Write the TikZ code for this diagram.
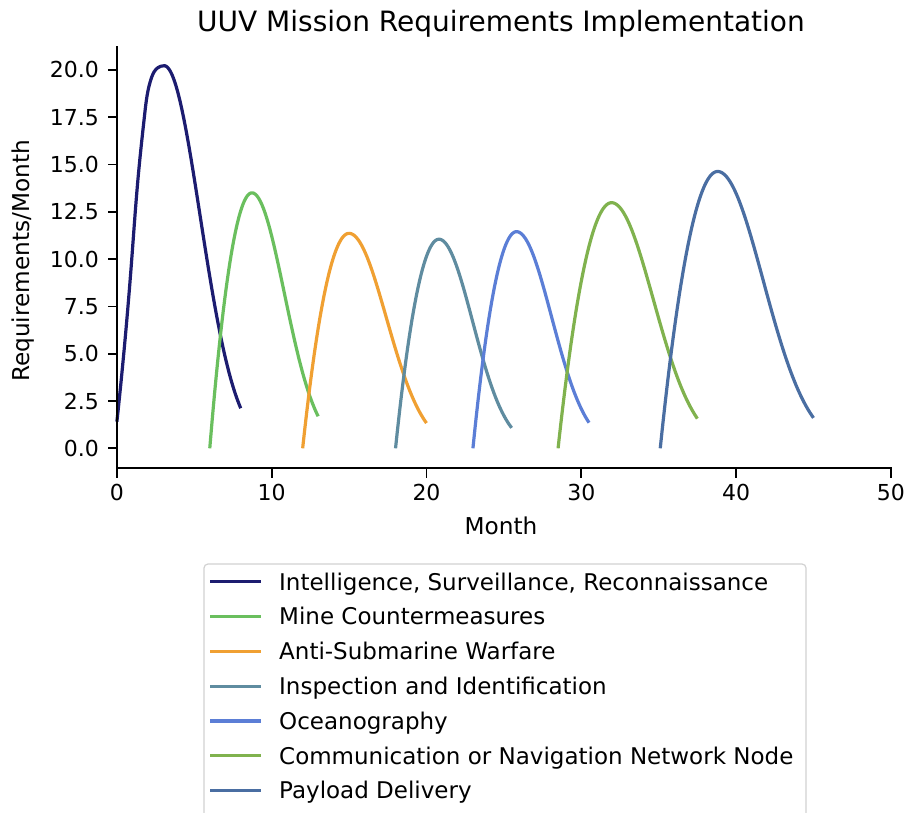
\documentclass[tikz,border=0pt]{standalone}
\usepackage{fontspec}
\setmainfont{DejaVu Sans}
\usetikzlibrary{hobby}
\definecolor{cISR}{HTML}{1C1C70}
\definecolor{cMCM}{HTML}{6ABF5E}
\definecolor{cASW}{HTML}{F0A032}
\definecolor{cII}{HTML}{5F8CA0}
\definecolor{cOCE}{HTML}{5B7ED6}
\definecolor{cCNN}{HTML}{80B24E}
\definecolor{cPAY}{HTML}{4A6EA2}
\definecolor{legendedge}{HTML}{D2D2D2}
% rise (parabola from start #2 to peak #3, height #4) then Gaussian fall of width #5, up to end #7
\newcommand\missioncurve[7]{%
  \draw[curve, #1] plot[domain=#2:#7, samples=160, variable=\x]
    ({\x}, {(\x<#3) ? (#4*(1-(#3-\x)*(#3-\x)/((#3-#2)*(#3-#2)))) : (#4*exp(-(\x-#3)*(\x-#3)/(2*#5*#5)))});}
\begin{document}
\begin{tikzpicture}[x=1pt,y=-1pt,
  curve/.style={line width=3.2pt, line join=round},
  spine/.style={line width=1.8pt, line cap=rect},
  tickmark/.style={line width=1.8pt},
  ticklabel/.style={inner sep=0pt, font=\fontsize{22}{26}\selectfont},
  axlabel/.style={inner sep=0pt, font=\fontsize{23.2}{27}\selectfont},
  legtext/.style={inner sep=0pt, anchor=base west, font=\fontsize{23}{27}\selectfont},
  leghandle/.style={line width=3.2pt}]
\useasboundingbox (0,0) rectangle (905,812);
\fill[white] (0,0) rectangle (905,812);

\begin{scope}[shift={(116.9pt,-448.3pt)}, x=15.48pt, y=18.92pt]
  % curves
  \draw[curve, cISR, use Hobby shortcut] (0,1.41) .. (0.5,5.5) .. (0.95,9.9) .. (1.38,14.4) .. (1.8,17.7) .. (2.24,19.6) .. (2.65,20.12) .. ([in angle=180]3.05,20.22);
  \draw[curve, cISR] plot[domain=3.05:8, samples=80, variable=\x] ({\x}, {20.22*exp(-(\x-3.05)*(\x-3.05)/(2*2.33*2.33))});
  \missioncurve{cMCM}{6}{8.72}{13.5}{2.1}{}{13}
  \missioncurve{cASW}{12}{14.99}{11.36}{2.42}{}{20}
  \missioncurve{cII}{18}{20.8}{11.05}{2.18}{}{25.5}
  \missioncurve{cOCE}{23}{25.81}{11.45}{2.27}{}{30.5}
  \missioncurve{cCNN}{28.5}{31.95}{12.98}{2.7}{}{37.5}
  \missioncurve{cPAY}{35.1}{38.8}{14.63}{2.95}{}{45}
  % axes
  \coordinate (O) at (0,-1.06);
  \coordinate (XE) at (50,-1.06);
  \coordinate (YT) at (0,21.2);
  \draw[spine] (YT) -- (O) -- (XE);
  \foreach \v/\t [count=\i] in {0/0.0, 2.5/2.5, 5/5.0, 7.5/7.5, 10/10.0, 12.5/12.5, 15/15.0, 17.5/17.5, 20/20.0} {
    \draw[tickmark] (0,\v) -- ++(-9.4pt,0) coordinate (ytk\i);
    \node[ticklabel, anchor=east] (yt\i) at ([xshift=-8.5pt]ytk\i) {\t};
  }
  \foreach \m [count=\i] in {0,10,20,30,40,50} {
    \draw[tickmark] (\m,-1.06) -- ++(0,-9.4pt) coordinate (xtk\i);
    \node[ticklabel, anchor=north] (xt\i) at ([yshift=-6.5pt]xtk\i) {\m};
  }
\end{scope}

\node[font=\fontsize{28}{33}\selectfont, anchor=base, inner sep=0pt] (title) at (501,31) {UUV Mission Requirements Implementation};
\node[axlabel, anchor=north] (xlabel) at (501,517) {Month};
\node[axlabel, rotate=90] (ylabel) at (23,261) {Requirements/Month};

% legend
\draw[legendedge, line width=1.2pt, rounded corners=4pt] (204,830) -- (204,564) -- (806,564) -- (806,830);
\foreach \c/\t/\y [count=\i] in {cISR/{Intelligence, Surveillance, Reconnaissance}/581.7, cMCM/{Mine Countermeasures}/616.5, cASW/{Anti-Submarine Warfare}/651.3, cII/{Inspection and Identification}/686.1, cOCE/{Oceanography}/720.9, cCNN/{Communication or Navigation Network Node}/755.7, cPAY/{Payload Delivery}/790.5} {
  \coordinate (lh\i a) at (210,\y);
  \coordinate (lh\i b) at (261,\y);
  \draw[leghandle, \c] (lh\i a) -- (lh\i b);
  \node[legtext] (leg\i) at (279,\y+8.3) {\t};
}
\end{tikzpicture}
\end{document}
